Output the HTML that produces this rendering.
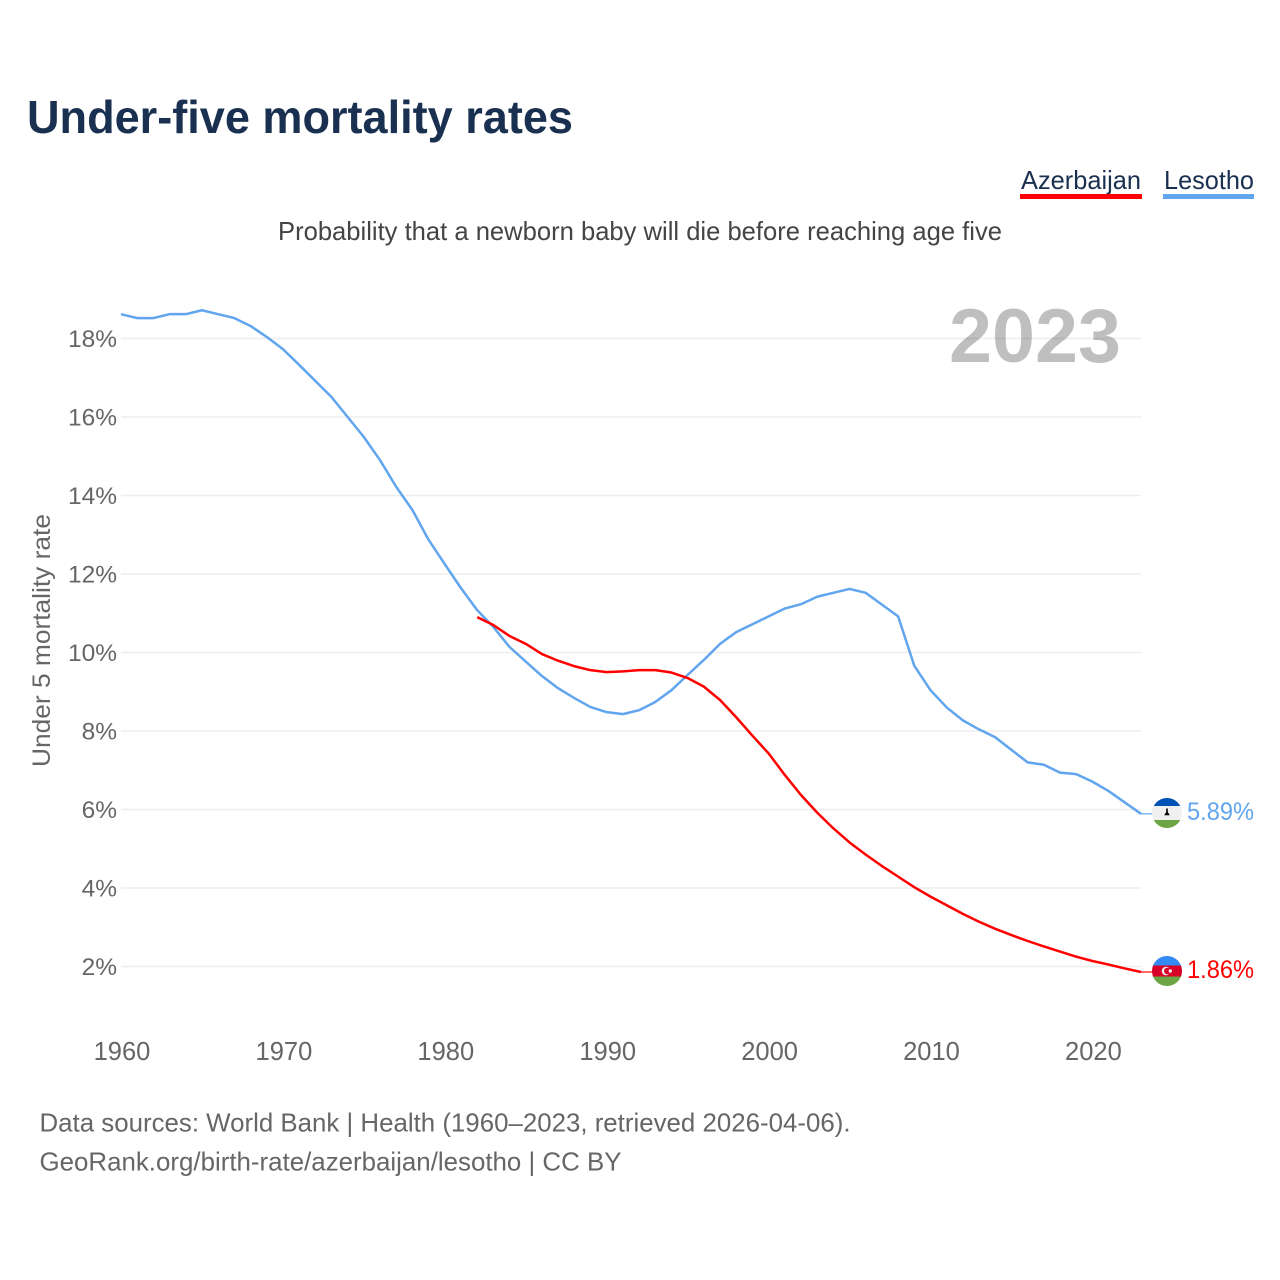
<!DOCTYPE html>
<html lang="en">
<head>
<meta charset="utf-8">
<title>Under-five mortality rates</title>
<style>
  html, body { margin: 0; padding: 0; background: #fff; }
  svg { display: block; font-family: "Liberation Sans", sans-serif; }
</style>
</head>
<body>
<svg id="chart" xmlns="http://www.w3.org/2000/svg" width="1280" height="1280" viewBox="0 0 1280 1280">
  <rect x="0" y="0" width="1280" height="1280" fill="#fff"/>
  <text x="27" y="133" font-size="46" font-weight="700" fill="#1a3050" textLength="546" lengthAdjust="spacingAndGlyphs">Under-five mortality rates</text>

  <g>
    <g>
      <text x="1021" y="189" font-size="26" fill="#1a3050" textLength="120" lengthAdjust="spacingAndGlyphs">Azerbaijan</text>
      <rect x="1020" y="194" width="122" height="5" fill="#ff0000"/>
    </g>
    <g>
      <text x="1164" y="189" font-size="26" fill="#1a3050" textLength="90" lengthAdjust="spacingAndGlyphs">Lesotho</text>
      <rect x="1163" y="194" width="91" height="5" fill="#60a5ee"/>
    </g>
  </g>

  <text x="278" y="240" font-size="26" fill="#444" textLength="724" lengthAdjust="spacingAndGlyphs">Probability that a newborn baby will die before reaching age five</text>

  <text transform="translate(50,767) rotate(-90)" x="0" y="0" font-size="25" fill="#666" textLength="253" lengthAdjust="spacingAndGlyphs">Under 5 mortality rate</text>

  <g id="grid"></g>

  <text x="949" y="362" font-size="76" font-weight="700" fill="#000" fill-opacity="0.25" textLength="172" lengthAdjust="spacingAndGlyphs">2023</text>

  <g id="yticks"></g>
  <g id="xticks"></g>
  <g id="series"></g>

  <defs>
    <clipPath id="clip-ls"><circle cx="1167" cy="813" r="15"/></clipPath>
    <clipPath id="clip-az"><circle cx="1167" cy="971" r="15"/></clipPath>
  </defs>

  <g id="flag-ls" clip-path="url(#clip-ls)">
    <rect x="1152" y="798" width="30" height="30" fill="#f0f0f0"/>
    <rect x="1152" y="798" width="30" height="8" fill="#0052b4"/>
    <rect x="1152" y="820" width="30" height="8" fill="#6da544"/>
    <path d="M1166.2 808.5h1.6v3.5l2 3.2h-5.6l2-3.2z" fill="#000"/>
  </g>
  <g id="flag-az" clip-path="url(#clip-az)">
    <rect x="1152" y="956" width="30" height="10" fill="#338af3"/>
    <rect x="1152" y="965.5" width="30" height="11" fill="#d80027"/>
    <rect x="1152" y="976.5" width="30" height="10" fill="#6da544"/>
    <circle cx="1166" cy="971" r="4.3" fill="#f0f0f0"/>
    <circle cx="1167.3" cy="971" r="3.3" fill="#d80027"/>
    <circle cx="1170.3" cy="971" r="1.7" fill="#f0f0f0"/>
  </g>

  <text id="label-ls" x="1187" y="820" font-size="25" fill="#60a5ee" textLength="67" lengthAdjust="spacingAndGlyphs"></text>
  <text id="label-az" x="1187" y="978" font-size="25" fill="#ff0000" textLength="67" lengthAdjust="spacingAndGlyphs"></text>

  <text x="39.5" y="1131.5" font-size="26" fill="#666" textLength="811" lengthAdjust="spacingAndGlyphs">Data sources: World Bank | Health (1960–2023, retrieved 2026-04-06).</text>
  <text x="39.5" y="1170.5" font-size="26" fill="#666" textLength="582" lengthAdjust="spacingAndGlyphs">GeoRank.org/birth-rate/azerbaijan/lesotho | CC BY</text>
</svg>

<script>
const startYear = 1960;
const xTickYears = [1960, 1970, 1980, 1990, 2000, 2010, 2020];
const yTickValues = [2, 4, 6, 8, 10, 12, 14, 16, 18];
const lesothoValues = [18.62, 18.52, 18.52, 18.62, 18.62, 18.72, 18.62, 18.52, 18.32, 18.04,
  17.73, 17.33, 16.92, 16.51, 16.0, 15.49, 14.9, 14.22, 13.63, 12.87,
  12.25, 11.64, 11.08, 10.65, 10.14, 9.77, 9.4, 9.09, 8.84, 8.61,
  8.48, 8.43, 8.53, 8.74, 9.04, 9.43, 9.81, 10.22, 10.52, 10.72,
  10.92, 11.12, 11.23, 11.42, 11.52, 11.62, 11.52, 11.22, 10.92, 9.66,
  9.04, 8.6, 8.27, 8.04, 7.84, 7.52, 7.2, 7.14, 6.94, 6.9,
  6.71, 6.47, 6.18, 5.89];
const azerbaijanStartYear = 1982;
const azerbaijanValues = [10.9, 10.7, 10.42, 10.22, 9.96, 9.79, 9.65, 9.55,
  9.5, 9.52, 9.55, 9.55, 9.49, 9.35, 9.13, 8.79, 8.35, 7.88,
  7.43, 6.88, 6.37, 5.92, 5.52, 5.16, 4.85, 4.56, 4.29, 4.02,
  3.78, 3.56, 3.34, 3.14, 2.96, 2.8, 2.65, 2.51, 2.38, 2.25,
  2.14, 2.05, 1.95, 1.86];

const NS = 'http://www.w3.org/2000/svg';
function xScale(year) { return 121 + (year - 1960) * 16.19; }
function yScale(v) { return 966.5 - (v - 2) * 39.25; }

const gridG = document.getElementById('grid');
const yG = document.getElementById('yticks');
const xG = document.getElementById('xticks');
const seriesG = document.getElementById('series');

yTickValues.forEach(function (v) {
  const line = document.createElementNS(NS, 'line');
  
  
  line.setAttribute('x1', xScale(1960));
  line.setAttribute('x2', xScale(2023));
  line.setAttribute('y1', yScale(v));
  line.setAttribute('y2', yScale(v));
  line.setAttribute('stroke', '#eeeeee');
  line.setAttribute('stroke-width', '1.6');
  gridG.appendChild(line);

  const t = document.createElementNS(NS, 'text');
  
  
  t.setAttribute('x', 117);
  t.setAttribute('y', yScale(v) + 8.5);
  t.setAttribute('font-size', '24.5');
  t.setAttribute('fill', '#666');
  t.setAttribute('text-anchor', 'end');
  t.textContent = v + '%';
  yG.appendChild(t);
});

xTickYears.forEach(function (yr) {
  const t = document.createElementNS(NS, 'text');
  
  
  t.setAttribute('x', xScale(yr) + 1);
  t.setAttribute('y', 1060);
  t.setAttribute('font-size', '25.5');
  t.setAttribute('fill', '#666');
  t.setAttribute('text-anchor', 'middle');
  t.textContent = yr;
  xG.appendChild(t);
});

function pointsFor(values, firstYear) {
  return values.map(function (v, i) {
    return xScale(firstYear + i).toFixed(2) + ',' + yScale(v).toFixed(2);
  }).join(' ');
}

function tail(values, color) {
  const last = values[values.length - 1];
  const l = document.createElementNS(NS, 'line');
  
  
  l.setAttribute('x1', xScale(2023));
  l.setAttribute('x2', 1153);
  l.setAttribute('y1', yScale(last));
  l.setAttribute('y2', yScale(last));
  l.setAttribute('stroke', color);
  l.setAttribute('stroke-width', '1.2');
  seriesG.appendChild(l);
}

const lesothoLine = document.createElementNS(NS, 'polyline');


lesothoLine.setAttribute('points', pointsFor(lesothoValues, startYear));
lesothoLine.setAttribute('fill', 'none');
lesothoLine.setAttribute('stroke', '#60a5ee');
lesothoLine.setAttribute('stroke-width', '2.5');
lesothoLine.setAttribute('stroke-linejoin', 'round');
seriesG.appendChild(lesothoLine);
tail(lesothoValues, '#60a5ee');

const azerbaijanLine = document.createElementNS(NS, 'polyline');


azerbaijanLine.setAttribute('points', pointsFor(azerbaijanValues, azerbaijanStartYear));
azerbaijanLine.setAttribute('fill', 'none');
azerbaijanLine.setAttribute('stroke', '#ff0000');
azerbaijanLine.setAttribute('stroke-width', '2.5');
azerbaijanLine.setAttribute('stroke-linejoin', 'round');
seriesG.appendChild(azerbaijanLine);
tail(azerbaijanValues, '#ff0000');

document.getElementById('label-ls').textContent = lesothoValues[lesothoValues.length - 1].toFixed(2) + '%';
document.getElementById('label-az').textContent = azerbaijanValues[azerbaijanValues.length - 1].toFixed(2) + '%';
</script>
</body>
</html>
